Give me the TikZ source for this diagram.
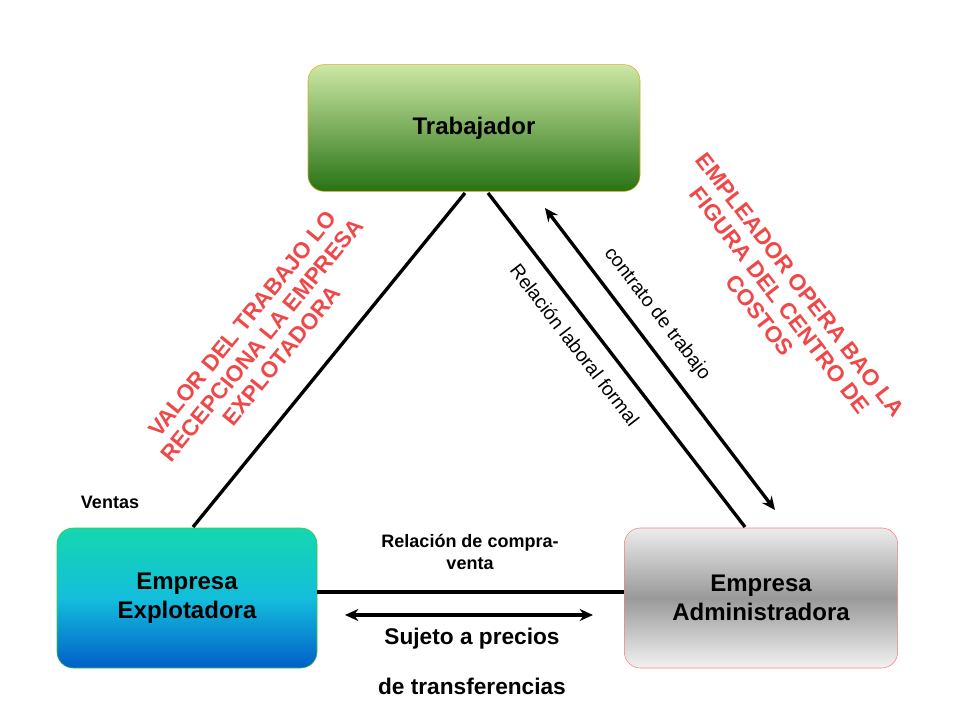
\documentclass[tikz,border=0pt]{standalone}
\usepackage{fontspec}
\setmainfont{Liberation Sans}
\usetikzlibrary{arrows.meta}
\definecolor{rojo}{HTML}{F04848}
\tikzset{
  caja/.style={rounded corners=12pt,minimum width=#1,minimum height=105pt,
    font=\fontsize{18}{22}\selectfont\bfseries,align=center},
  rojotxt/.style={text=rojo,font=\fontsize{17}{19}\selectfont\bfseries,align=center},
  linea/.style={line width=2.5pt},
  flecha/.style={line width=2.5pt,{Stealth[length=10pt,width=9pt]}-{Stealth[length=10pt,width=9pt]}}
}
\begin{document}
\begin{tikzpicture}[x=0.75pt,y=-0.75pt]
  \useasboundingbox (0,0) rectangle (960,720);
  \node (trab) [caja=249pt,minimum height=95pt,top color={rgb,255:red,205;green,232;blue,165},bottom color={rgb,255:red,40;green,115;blue,20},draw={rgb,255:red,220;green,170;blue,40}] at (474,128) {Trabajador};
  \node (expl) [caja=195pt,top color={rgb,255:red,20;green,215;blue,175},bottom color={rgb,255:red,0;green,95;blue,200},middle color={rgb,255:red,20;green,190;blue,220},draw={rgb,255:red,60;green,200;blue,60}] at (187,598) {Empresa\\Explotadora};
  \node (admi) [caja=205pt,top color=gray!15,bottom color=gray!10,middle color=gray!80,draw=rojo!70] at (761,598) {Empresa\\Administradora};

  \coordinate (t1) at (465,193);
  \coordinate (t2) at (488,193);
  \coordinate (e1) at (193,527);
  \coordinate (a1) at (745,527);
  \draw[linea] (t1) -- (e1);
  \draw[linea] (t2) -- (a1);
  \draw[linea] (expl.east |- 0,592) -- (admi.west |- 0,592);

  \coordinate (f1) at (345,615);
  \coordinate (f2) at (593,615);
  \coordinate (f3) at (545,208);
  \coordinate (f4) at (775,510);
  \draw[flecha] (f1) -- (f2);
  \draw[flecha] (f3) -- (f4);

  \node (rlf) [rotate=-52.4,font=\fontsize{14.5}{16}\selectfont] at (575,345) {Relación laboral formal};
  \node (cdt) [rotate=-52.4,font=\fontsize{14.5}{16}\selectfont] at (657,314) {contrato de trabajo};
  \node (valor) [rojotxt,rotate=50.8] at (262,340) {VALOR DEL TRABAJO LO\\RECEPCIONA LA EMPRESA\\EXPLOTADORA};
  \node (emple) [rojotxt,rotate=-52.4] at (780,300) {EMPLEADOR OPERA BAO LA\\FIGURA DEL CENTRO DE\\COSTOS};
  \node (ventas) [font=\fontsize{13.5}{16}\selectfont\bfseries] at (110,502) {Ventas};
  \node (compra) [font=\fontsize{13.5}{17}\selectfont\bfseries,align=center] at (470,552) {Relación de compra-\\venta};
  \node (sujeto) [font=\fontsize{17}{19}\selectfont\bfseries] at (472,639) {Sujeto a precios};
  \node (transf) [font=\fontsize{17}{19}\selectfont\bfseries] at (472,686) {de transferencias};
\end{tikzpicture}
\end{document}
